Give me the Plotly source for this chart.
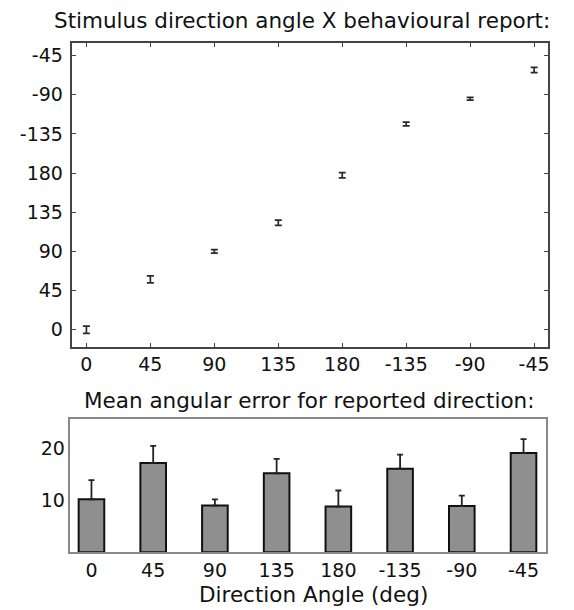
import plotly.graph_objects as go

# ---- data ----
direction_labels = ["0", "45", "90", "135", "180", "-135", "-90", "-45"]
direction_index = [0, 1, 2, 3, 4, 5, 6, 7]

# reported direction (deg, unwrapped so that -135 -> 225 etc.)
report_tick_vals = [0, 45, 90, 135, 180, 225, 270, 315]
report_tick_text = ["0", "45", "90", "135", "180", "-135", "-90", "-45"]
reported_mean = [0, 58, 90, 123, 177.5, 236.5, 265.5, 298.5]
reported_err = [4.2, 4.0, 2.0, 3.0, 3.0, 2.2, 1.6, 3.0]

# mean angular error
error_mean = [10.2, 17.2, 9.0, 15.2, 8.8, 16.1, 8.9, 19.1]
error_sem = [3.7, 3.3, 1.2, 2.8, 3.1, 2.7, 2.0, 2.7]

# page body has an 8px margin: the figure is placed at (8, 8)
OFF = 8
W, H = 574 - 2 * OFF, 610 - OFF
FONT = "DejaVu Sans, Liberation Sans, Arial"

def px_x(a, b):
    return [(a - OFF) / W, (b - OFF) / W]

def px_y(top, bottom):
    return [1 - (bottom - OFF) / H, 1 - (top - OFF) / H]

def pos_x(a):
    return (a - OFF) / W

def pos_y(t):
    return 1 - (t - OFF) / H

fig = go.Figure()

fig.add_trace(go.Scatter(
    x=direction_index, y=reported_mean, mode="markers",
    marker=dict(size=1, color="rgba(0,0,0,0)"),
    error_y=dict(type="data", array=reported_err, visible=True,
                 color="#2a2a2a", thickness=1.7, width=3.5),
    xaxis="x", yaxis="y", showlegend=False, hoverinfo="skip"))

fig.add_trace(go.Bar(
    x=direction_index, y=error_mean, width=0.415,
    marker=dict(color="#8f8f8f", line=dict(color="#111111", width=2)),
    error_y=dict(type="data", array=error_sem, arrayminus=[0]*8, symmetric=False,
                 visible=True, color="#222222", thickness=1.8, width=3),
    xaxis="x2", yaxis="y2", showlegend=False, hoverinfo="skip"))

tickfont = dict(family=FONT, size=19, color="#111111")

fig.update_layout(
    width=W, height=H,
    margin=dict(l=0, r=0, t=0, b=0),
    paper_bgcolor="white", plot_bgcolor="white",
    font=dict(family=FONT, color="#111111"),
    xaxis=dict(domain=px_x(72.7, 550), range=[-0.218, 7.218],
               tickvals=direction_index, ticktext=direction_labels,
               ticks="inside", ticklen=4, tickcolor="#444444", tickwidth=1,
               showline=True, linecolor="#444444", linewidth=1.5, mirror="ticks",
               showgrid=False, zeroline=False, tickfont=tickfont,
               anchor="y", fixedrange=True),
    yaxis=dict(domain=px_y(43, 346.5), range=[-19.2, 329.5],
               tickvals=report_tick_vals, ticktext=report_tick_text,
               ticks="inside", ticklen=4, tickcolor="#444444", tickwidth=1,
               showline=True, linecolor="#444444", linewidth=1.5, mirror="ticks",
               showgrid=False, zeroline=False, tickfont=tickfont,
               ticklabelstandoff=4,
               anchor="x", fixedrange=True),
    xaxis2=dict(domain=px_x(70.7, 548.3), range=[-0.34, 7.37],
                tickvals=direction_index, ticktext=direction_labels,
                ticks="", showline=True, linecolor="#888888", linewidth=1.5,
                mirror=True, showgrid=False, zeroline=False, tickfont=tickfont,
                anchor="y2", fixedrange=True),
    yaxis2=dict(domain=px_y(419.3, 552.3), range=[0, 25.6],
                tickvals=[10, 20], ticktext=["10", "20"],
                ticks="", showline=True, linecolor="#888888", linewidth=1.5,
                mirror=True, showgrid=False, zeroline=False, tickfont=tickfont,
                anchor="x2", fixedrange=True),
    annotations=[
        dict(text="Stimulus direction angle X behavioural report:",
             x=pos_x(303), y=pos_y(20), xref="paper", yref="paper",
             xanchor="center", yanchor="middle", showarrow=False,
             font=dict(family=FONT, size=21.5, color="#111111")),
        dict(text="Mean angular error for reported direction:",
             x=pos_x(310), y=pos_y(400), xref="paper", yref="paper",
             xanchor="center", yanchor="middle", showarrow=False,
             font=dict(family=FONT, size=21.5, color="#111111")),
        dict(text="Direction Angle (deg)",
             x=pos_x(315), y=pos_y(594), xref="paper", yref="paper",
             xanchor="center", yanchor="middle", showarrow=False,
             font=dict(family=FONT, size=21.5, color="#111111")),
    ],
)

fig.write_html("out.html")
